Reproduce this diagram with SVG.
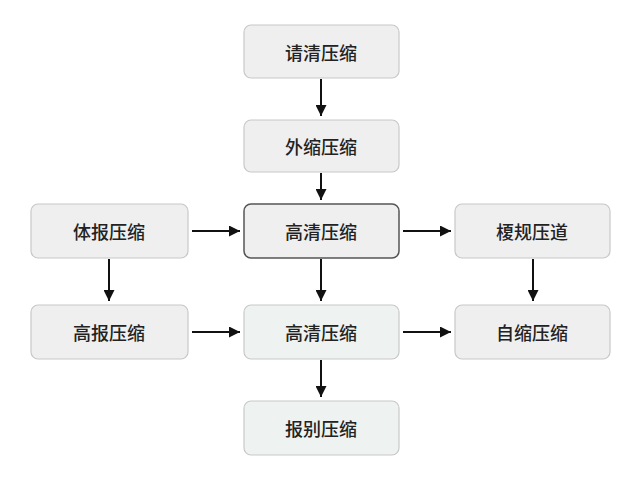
<svg xmlns="http://www.w3.org/2000/svg" width="640" height="480" viewBox="0 0 640 480">
<style>
.n{fill:#efefef;stroke:#c8c8c8;stroke-width:1.2}
.g{fill:#eef2f0}
.d{stroke:#555;stroke-width:1.5}
text{font-family:"Noto Sans CJK SC",sans-serif;font-size:18px;font-weight:500;fill:#222;text-anchor:middle;dominant-baseline:central}
#c line{stroke:#111;stroke-width:2;marker-end:url(#a)}
</style>
<defs><marker id="a" viewBox="0 0 10 10" refX="10" refY="5" markerWidth="5.5" markerHeight="5.5" orient="auto"><path d="M0,0L10,5L0,10z" fill="#111"/></marker></defs>
<rect width="640" height="480" fill="#fff"/>
<g id="n1"><rect class="n" x="244" y="25" width="155" height="53" rx="7"/><text x="321" y="52">请清压缩</text></g>
<g id="n2"><rect class="n" x="244" y="120" width="155" height="52" rx="7"/><text x="321" y="146">外缩压缩</text></g>
<g id="n3"><rect class="n" x="31" y="204" width="157" height="54" rx="7"/><text x="109" y="231">体报压缩</text></g>
<g id="n4"><rect class="n d" x="244" y="204" width="155" height="54" rx="7"/><text x="321" y="231">高清压缩</text></g>
<g id="n5"><rect class="n" x="455" y="204" width="155" height="54" rx="7"/><text x="532" y="231">榎规压道</text></g>
<g id="n6"><rect class="n" x="31" y="305" width="157" height="54" rx="7"/><text x="109" y="332">高报压缩</text></g>
<g id="n7"><rect class="n g" x="244" y="305" width="155" height="54" rx="7"/><text x="321" y="332">高清压缩</text></g>
<g id="n8"><rect class="n" x="455" y="305" width="155" height="54" rx="7"/><text x="532" y="332">自缩压缩</text></g>
<g id="n9"><rect class="n g" x="244" y="401" width="155" height="54" rx="7"/><text x="321" y="428">报别压缩</text></g>
<g id="c">
<line x1="321" y1="79" x2="321" y2="116"/>
<line x1="321" y1="173" x2="321" y2="200"/>
<line x1="192" y1="231" x2="240" y2="231"/>
<line x1="403" y1="231" x2="451" y2="231"/>
<line x1="109" y1="259" x2="109" y2="301"/>
<line x1="321" y1="259" x2="321" y2="301"/>
<line x1="533" y1="259" x2="533" y2="301"/>
<line x1="192" y1="332" x2="240" y2="332"/>
<line x1="403" y1="332" x2="451" y2="332"/>
<line x1="321" y1="360" x2="321" y2="397"/>
</g>
</svg>
